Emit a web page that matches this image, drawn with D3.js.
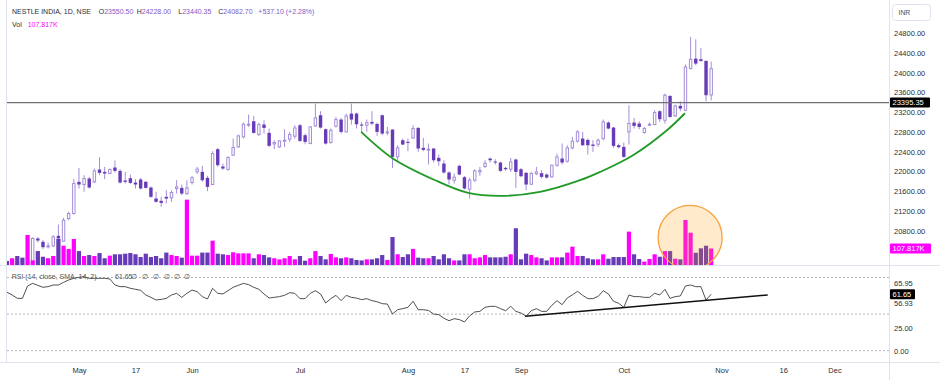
<!DOCTYPE html>
<html><head><meta charset="utf-8">
<script src="https://cdn.jsdelivr.net/npm/d3@7"></script>
<style>html,body{margin:0;padding:0;background:#fff;}svg{display:block;font-family:"Liberation Sans",Arial,sans-serif;}</style>
</head><body><svg id="c" width="940" height="380"></svg>
<script>
// ---------- DATA ----------
const opens = [19900,19850,19900,19820,19760,20180,20642,20575,20473,20493,
20696,20588,21047,21148,21790,21736,21857,21790,22039,21992,
21959,22080,22012,21817,21864,21776,21837,21790,21675,21452,
21405,21486,21466,21655,21668,21553,21776,21992,21992,21871,
21736,22451,22100,22039,22330,22498,22701,22937,23018,22748,
22951,22782,22559,22498,22613,22654,22714,22937,22735,22566,
22924,23140,22856,22586,22917,23052,22802,23173,23173,22951,
22937,23005,22964,23140,22782,22849,22296,22633,22600,22681,
22883,22478,22431,22465,22276,22161,21979,21823,22114,21884,
21641,21823,21992,22100,22262,22201,22181,22073,22046,22242,
22046,21972,21742,21952,21965,21938,21891,22127,22262,22208,
22478,22613,22667,22640,22546,22552,22667,22991,22890,22532,
22498,22802,22991,22971,22789,22937,22951,23221,23038,23531,
23126,23329,23241,24085,24287,24274,24240,23550.50];
const highs = [19960,19930,19940,19870,20200,20669,20669,20608,20561,20710,
20926,21061,21182,21844,22073,21925,21891,22060,22289,22093,
22060,22222,22046,21992,21938,21844,21871,21810,21695,21587,
21486,21621,21621,21823,21736,21823,21911,22093,22114,21911,
22411,22478,22161,22309,22667,22748,22991,23153,23126,22991,
23038,22870,22633,22633,22856,22802,22937,22964,22768,22917,
23376,23221,22870,22870,23106,23086,23173,23376,23194,23005,
23052,23221,22991,23153,22903,22856,22532,22667,22667,22937,
22897,22681,22566,22478,22343,22228,22006,21959,22141,21911,
21871,22046,22093,22228,22282,22249,22195,22093,22276,22262,
22073,21992,21992,22093,22026,21959,22141,22363,22566,22532,
22701,22836,22802,22667,22633,22667,23052,23018,22903,22566,
22586,23342,23086,23018,22903,22991,23241,23241,23578,23545,
23356,23423,24166,24726,24679,24503,24253,24228.00];
const lows = [19820,19800,19780,19720,19740,20150,20561,20426,20440,20466,
20629,20575,21013,21128,21655,21587,21655,21763,21925,21844,
21945,21979,21756,21756,21749,21655,21634,21655,21466,21371,
21283,21351,21385,21553,21520,21520,21736,21952,21790,21601,
21722,22093,22033,22019,22316,22485,22667,22903,22768,22721,
22768,22498,22451,22478,22498,22600,22667,22600,22552,22552,
22903,22870,22546,22566,22890,22768,22789,22951,22870,22802,
22802,22937,22721,22735,22735,22073,22195,22532,22411,22654,
22397,22411,22141,22181,22114,21959,21736,21756,21925,21634,
21452,21790,21911,22073,22181,22141,21992,22012,21992,21668,
21884,21621,21722,21925,21857,21857,21871,22093,22141,22181,
22451,22586,22519,22343,22397,22498,22633,22856,22478,22465,
22276,22546,22870,22856,22768,22924,22937,23005,22971,23086,
23106,23221,23221,24071,24152,24220,23423,23440.35];
const closes = [19850,19900,19820,19760,20150,20642,20601,20466,20493,20676,
20642,21013,21148,21756,21736,21857,21675,22012,21972,21959,
22039,22012,21776,21790,21769,21736,21655,21668,21486,21385,
21364,21452,21574,21688,21553,21668,21871,22046,21823,21688,
22363,22127,22060,22282,22485,22721,22957,22957,22782,22951,
22883,22519,22586,22620,22633,22748,22883,22620,22600,22903,
23086,22890,22566,22836,23052,22802,23126,23052,22957,22930,
22991,22971,22802,22768,22802,22296,22478,22546,22579,22870,
22465,22438,22451,22228,22208,21979,21837,21884,21938,21655,
21823,22012,22019,22168,22228,22188,22012,22046,22195,21992,
21904,21736,21959,21992,21891,21877,22127,22296,22181,22478,
22613,22802,22532,22532,22519,22633,23005,22870,22519,22492,
22296,22971,22924,22903,22870,22957,23194,23059,23545,23106,
23329,23275,24118,24274,24186,24240,23545.60,24082.70];
const volumesK = [26,44,59,48,196,30,91,54,44,59,
170,126,105,170,91,59,65,59,78,44,
61,70,70,74,78,70,52,74,52,59,
44,81,65,59,48,427,61,61,81,81,
159,74,70,65,83,76,76,76,44,70,
65,50,44,37,44,59,37,59,28,44,
91,59,37,72,50,44,50,44,33,30,
37,37,44,65,33,183,70,52,70,105,
48,44,44,59,37,70,44,30,30,70,
70,44,50,65,50,50,50,54,70,240,
37,74,65,50,44,30,50,50,50,81,
120,59,59,44,37,37,70,41,52,52,
52,218,70,39,22,39,70,54,91,91,
41,37,294,211,80,109,126,107.817];
const rsiValues = [63.8,60.9,57.2,57.2,70.7,73.6,71.4,69.3,70.0,71.8,
71.8,74.7,77.3,79.1,80.2,80.9,79.1,79.1,79.1,79.1,
78.4,71.8,70.0,70.0,68.2,67.1,66.0,60.9,58.3,55.4,
56.1,57.2,60.9,62.7,58.3,62.7,66.3,64.5,59.1,56.5,
68.2,62.7,62.0,65.6,69.3,71.4,73.6,72.2,69.3,67.1,
62.0,57.6,58.3,59.1,60.5,63.4,62.7,56.9,56.9,62.7,
65.6,62.0,52.1,56.9,60.5,54.7,60.5,58.3,57.5,55.8,
56.9,54.7,53.5,51.4,51.0,40.1,44.8,46.0,47.4,54.0,
44.8,44.8,44.0,40.1,39.4,35.5,32.8,35.0,34.0,31.4,
38.0,42.3,43.0,47.4,48.5,48.5,46.0,43.7,48.5,43.0,
41.2,37.6,43.7,45.9,43.0,43.0,49.6,54.7,50.3,57.6,
61.0,64.9,60.5,56.9,56.9,59.4,65.6,62.0,54.0,51.8,
47.4,60.9,59.1,59.1,58.3,58.3,62.7,60.9,67.1,57.2,
59.1,59.8,70.7,71.8,70.0,70.0,55.4,61.65];
const priceTicks = [24800,24400,24000,23600,23200,22800,22400,22000,21600,21200,20800];
const rsiTicks = [25, 0];
const rsiBands = [80, 40, 0];
const rsiExtraLabels = [65.95, 56.93];
const timeTickBars = [14,25,36,57,78,89,100,120,139,151,161];
const timeTickLabels = ["May","17","Jun","Jul","Aug","17","Sep","Oct","Nov","16","Dec"];
const keyLevel = 23395.35;
const cupBars =   [68.9, 74.9, 83.3, 89.7, 95.9, 103.7, 111.5, 115.4, 121.8, 128.4, 131.9];
const cupPrices = [22801,22275,21823,21566,21505,21586,21823,21991,22330,22836,23180];
const rsiTrendBars = [100.8, 148];
const rsiTrendValues = [37.6, 60.9];
const highlightBar = 132.9, highlightPrice = 20663;
const symbolTitle = "NESTLE INDIA, 1D, NSE";
const currency = "INR";
const rsiTitle = "RSI (14, close, SMA, 14, 2)";

// ---------- SCALES ----------
const svg = d3.select("#c");
const N = closes.length, last = N - 1;
const x = d3.scaleLinear().domain([0, 171]).range([7, 7 + 5.14 * 171]);
const yP = d3.scaleLinear().domain([20800, 24800]).range([230.7, 33.3]);
const yV = d3.scaleLinear().domain([0, 107.817]).range([265, 248.5]);
const yR = d3.scaleLinear().domain([0, 100]).range([350.7, 259.2]);
const PANE_R = 889, MAIN_B = 265, RSI_T = 266, RSI_B = 362;

const upC = "#a48ed9", downC = "#673ab7", volUp = "#ff00ff", volDown = "#673ab7";
const bars = closes.map((c, i) => ({i, o: opens[i], h: highs[i], l: lows[i], c, v: volumesK[i], r: rsiValues[i]}));

const defs = svg.append("defs");
defs.append("clipPath").attr("id", "cm").append("rect").attr("x", 7).attr("y", 0).attr("width", PANE_R - 7).attr("height", MAIN_B);
defs.append("clipPath").attr("id", "cr").append("rect").attr("x", 7).attr("y", RSI_T).attr("width", PANE_R - 7).attr("height", RSI_B - RSI_T);

svg.append("rect").attr("width", 940).attr("height", 380).attr("fill", "#fff");

// ---------- MAIN PANE ----------
const main = svg.append("g").attr("clip-path", "url(#cm)");
const cg = main.append("g");
cg.selectAll("line.w").data(bars).join("line").attr("class", "w")
  .attr("x1", d => x(d.i)).attr("x2", d => x(d.i))
  .attr("y1", d => yP(d.h)).attr("y2", d => yP(d.l))
  .attr("stroke", upC).attr("stroke-width", 1);
cg.selectAll("rect.b").data(bars).join("rect").attr("class", "b")
  .attr("x", d => x(d.i) - (d.c >= d.o ? 1.2 : 1.7))
  .attr("width", d => d.c >= d.o ? 2.4 : 3.4)
  .attr("y", d => yP(Math.max(d.o, d.c)))
  .attr("height", d => Math.max(1, Math.abs(yP(d.o) - yP(d.c))))
  .attr("fill", d => d.c >= d.o ? "#fff" : downC)
  .attr("stroke", d => d.c >= d.o ? upC : "none")
  .attr("stroke-width", 1);

main.append("g").selectAll("rect").data(bars).join("rect")
  .attr("x", d => x(d.i) - 2.1).attr("width", 4.2)
  .attr("y", d => yV(d.v)).attr("height", d => MAIN_B - yV(d.v))
  .attr("fill", d => d.c >= d.o ? volUp : volDown);

// highlight circle
main.append("circle").attr("cx", x(highlightBar)).attr("cy", yP(highlightPrice)).attr("r", 32)
  .attr("fill", "rgba(255,152,0,0.2)").attr("stroke", "#f7a23c").attr("stroke-width", 1.3);

// key level line
main.append("line").attr("x1", 7).attr("x2", PANE_R).attr("y1", yP(keyLevel)).attr("y2", yP(keyLevel))
  .attr("stroke", "#707070").attr("stroke-width", 1.1);

// cup curve
main.append("path").datum(cupBars.map((b, k) => [b, cupPrices[k]]))
  .attr("d", d3.line().x(d => x(d[0])).y(d => yP(d[1])).curve(d3.curveCatmullRom))
  .attr("fill", "none").attr("stroke", "#1f9a27").attr("stroke-width", 1.8);

// ---------- RSI PANE ----------
const rp = svg.append("g").attr("clip-path", "url(#cr)");
rp.selectAll("line.band").data(rsiBands).join("line").attr("class", "band")
  .attr("x1", 7).attr("x2", PANE_R).attr("y1", d => yR(d)).attr("y2", d => yR(d))
  .attr("stroke", "#b2b5be").attr("stroke-dasharray", "2,2").attr("stroke-width", 1);
rp.append("path").datum(bars)
  .attr("d", d3.line().x(d => x(d.i)).y(d => yR(d.r)))
  .attr("fill", "none").attr("stroke", "#3c3c3c").attr("stroke-width", 0.9);
rp.append("path").datum(rsiTrendBars.map((b, k) => [b, rsiTrendValues[k]]))
  .attr("d", d3.line().x(d => x(d[0])).y(d => yR(d[1])))
  .attr("fill", "none").attr("stroke", "#111").attr("stroke-width", 1.4);

// ---------- FRAME ----------
const sep = "#e0e3eb";
svg.append("line").attr("x1", 6.5).attr("x2", 6.5).attr("y1", 0).attr("y2", RSI_B).attr("stroke", sep);
svg.append("line").attr("x1", PANE_R + 0.5).attr("x2", PANE_R + 0.5).attr("y1", 0).attr("y2", 380).attr("stroke", sep);
svg.append("line").attr("x1", 0).attr("x2", 940).attr("y1", MAIN_B + 0.5).attr("y2", MAIN_B + 0.5).attr("stroke", sep);
svg.append("line").attr("x1", 0).attr("x2", 940).attr("y1", RSI_B + 0.5).attr("y2", RSI_B + 0.5).attr("stroke", sep);

// ---------- AXES ----------
const fs = 7.5, txt = "#2a2e39";
function styleAxis(g) {
  g.select(".domain").remove();
  g.selectAll("text").attr("font-size", fs).attr("fill", txt).attr("font-family", '"Liberation Sans",Arial,sans-serif');
}
svg.append("g").attr("transform", `translate(${PANE_R + 2},0)`)
  .call(d3.axisRight(yP).tickValues(priceTicks).tickSize(0).tickPadding(3).tickFormat(d3.format(".2f")))
  .call(styleAxis);
svg.append("g").attr("transform", `translate(${PANE_R + 2},0)`)
  .call(d3.axisRight(yR).tickValues(rsiTicks).tickSize(0).tickPadding(3).tickFormat(d3.format(".2f")))
  .call(styleAxis);
svg.append("g").attr("transform", `translate(0,${RSI_B + 2})`)
  .call(d3.axisBottom(x).tickValues(timeTickBars).tickSize(0).tickPadding(4).tickFormat((d, k) => timeTickLabels[k]))
  .call(styleAxis);

// extra RSI labels (nudged to avoid overlapping the live value tag)
svg.selectAll("text.rx").data(rsiExtraLabels).join("text").attr("class", "rx")
  .attr("x", PANE_R + 5).attr("y", (d, k) => yR(d) + (k === 0 ? -6.4 : 4.7)).attr("dy", "0.32em")
  .attr("font-size", fs).attr("fill", txt).text(d => d3.format(".2f")(d));

// value tags
function tag(yv, label, bg, w) {
  svg.append("rect").attr("x", PANE_R + 1).attr("y", yv - 5).attr("width", w).attr("height", 10).attr("fill", bg).attr("rx", 1);
  svg.append("text").attr("x", PANE_R + 3.5).attr("y", yv).attr("dy", "0.35em").attr("font-size", fs)
    .attr("fill", "#fff").text(label);
}
tag(yP(keyLevel), d3.format(".2f")(keyLevel), "#000", 40);
tag(yV(volumesK[last]), d3.format(".3f")(volumesK[last]) + "K", "#ff00ff", 41);
tag(yR(rsiValues[last]), d3.format(".2f")(rsiValues[last]), "#000", 25);

// currency box
svg.append("rect").attr("x", 892.5).attr("y", 4.5).attr("width", 38).attr("height", 16).attr("rx", 3)
  .attr("fill", "#fff").attr("stroke", sep);
svg.append("text").attr("x", 898.5).attr("y", 14.5).attr("font-size", 6.8).attr("fill", "#4a4e59").text(currency);

// ---------- LEGENDS ----------
const hfs = 7, valC = "#7e5bc9";
svg.append("text").attr("x", 12).attr("y", 14.3).attr("font-size", hfs).attr("fill", txt).text(symbolTitle);
const ohlcLetters = ["O", "H", "L", "C"];
const ohlcVals = [opens[last], highs[last], lows[last], closes[last]];
const ohlcX = [98.7, 136.7, 178.3, 218.3];
ohlcLetters.forEach((L, k) => {
  const t = svg.append("text").attr("x", ohlcX[k]).attr("y", 14.3).attr("font-size", hfs);
  t.append("tspan").attr("fill", txt).text(L);
  t.append("tspan").attr("fill", valC).text(d3.format(".2f")(ohlcVals[k]));
});
const chg = closes[last] - closes[last - 1];
svg.append("text").attr("x", 258.3).attr("y", 14.3).attr("font-size", hfs).attr("fill", valC)
  .text(`+${d3.format(".2f")(chg)} (+${d3.format(".2f")(chg / closes[last - 1] * 100)}%)`);
const vt = svg.append("text").attr("x", 12).attr("y", 27.3).attr("font-size", hfs);
vt.append("tspan").attr("fill", txt).text("Vol");
vt.append("tspan").attr("x", 27.7).attr("fill", "#ff00ff").text(d3.format(".3f")(volumesK[last]) + "K");

const rl = svg.append("text").attr("x", 11.7).attr("y", 279).attr("font-size", hfs).attr("fill", "#555");
rl.append("tspan").text(rsiTitle);
rl.append("tspan").attr("x", 115).text(d3.format(".2f")(rsiValues[last]));
[131, 142, 153, 164, 174, 184].forEach(px => rl.append("tspan").attr("x", px).text("\u2205"));
</script></body></html>
